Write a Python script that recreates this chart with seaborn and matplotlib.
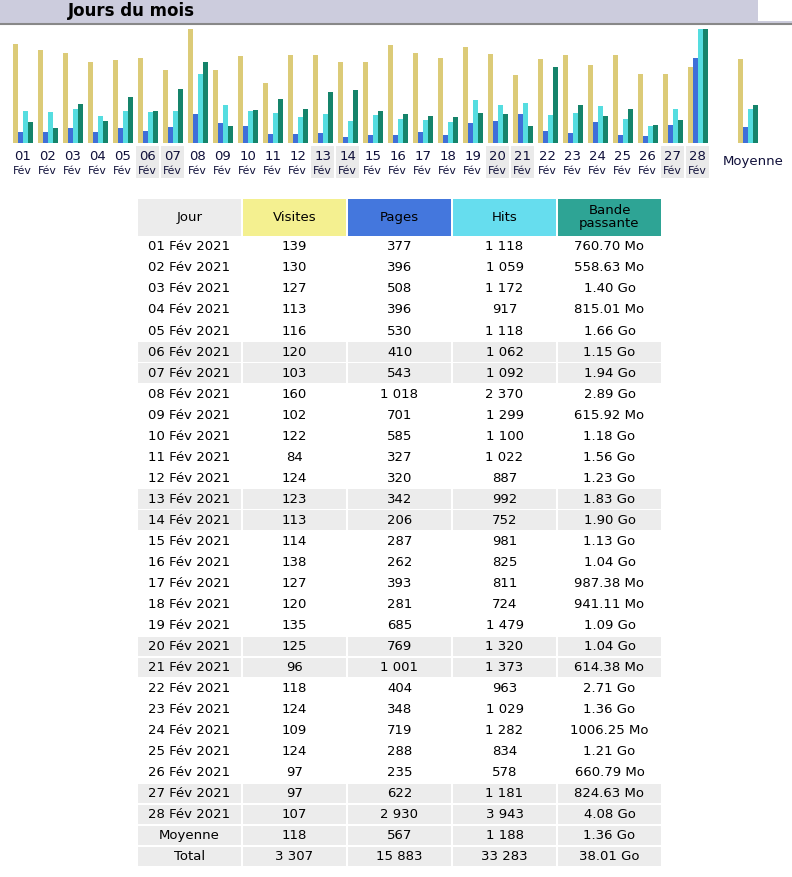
import numpy as np
import pandas as pd
import matplotlib
matplotlib.use('Agg')
import matplotlib.pyplot as plt
import matplotlib.transforms as mtrans
from matplotlib.patches import Rectangle
import seaborn as sns

sns.set_theme(style='white')
plt.rcParams['font.family'] = ['DejaVu Sans']

# ---------------- data ----------------
jours = ['%02d' % d for d in range(1, 29)]
week_end = ['06', '07', '13', '14', '20', '21', '27', '28']
visites = [139, 130, 127, 113, 116, 120, 103, 160, 102, 122, 84, 124, 123, 113,
           114, 138, 127, 120, 135, 125, 96, 118, 124, 109, 124, 97, 97, 107]
pages = [377, 396, 508, 396, 530, 410, 543, 1018, 701, 585, 327, 320, 342, 206,
         287, 262, 393, 281, 685, 769, 1001, 404, 348, 719, 288, 235, 622, 2930]
hits = [1118, 1059, 1172, 917, 1118, 1062, 1092, 2370, 1299, 1100, 1022, 887, 992, 752,
        981, 825, 811, 724, 1479, 1320, 1373, 963, 1029, 1282, 834, 578, 1181, 3943]
bande = ['760.70 Mo', '558.63 Mo', '1.40 Go', '815.01 Mo', '1.66 Go', '1.15 Go', '1.94 Go',
         '2.89 Go', '615.92 Mo', '1.18 Go', '1.56 Go', '1.23 Go', '1.83 Go', '1.90 Go',
         '1.13 Go', '1.04 Go', '987.38 Mo', '941.11 Mo', '1.09 Go', '1.04 Go', '614.38 Mo',
         '2.71 Go', '1.36 Go', '1006.25 Mo', '1.21 Go', '660.79 Mo', '824.63 Mo', '4.08 Go']
moyenne = [118, 567, 1188, '1.36 Go']
total = [3307, 15883, 33283, '38.01 Go']

series = ['Visites', 'Pages', 'Hits', 'Bande passante']
couleurs_barres = {'Visites': '#DCCB78', 'Pages': '#3F6FD8',
                   'Hits': '#55DDE0', 'Bande passante': '#15836A'}
couleurs_entete = ['#ECECEC', '#F4F090', '#4477DD', '#66DDEE', '#2EA495']


def en_mo(s):
    v, u = s.split()
    return float(v) * (1024 if u == 'Go' else 1)


def fmt(n):
    return '{:,}'.format(n).replace(',', ' ')


# ------------- bar heights (awstats style scaling) -------------
bw = [en_mo(b) for b in bande]
max_v, max_h, max_bw = max(visites), max(hits), max(bw)
rows = []
for j, v, p, h, b in zip(jours + ['Moyenne'], visites + [moyenne[0]], pages + [moyenne[1]],
                         hits + [moyenne[2]], bw + [en_mo(moyenne[3])]):
    rows.append((j, 'Visites', v / max_v))
    rows.append((j, 'Pages', p / max_h))
    rows.append((j, 'Hits', h / max_h))
    rows.append((j, 'Bande passante', b / max_bw))
df = pd.DataFrame(rows, columns=['jour', 'serie', 'hauteur'])
ordre = jours + [' ', 'Moyenne']

# ---------------- figure ----------------
W, H = 792, 877
fig = plt.figure(figsize=(W / 100, H / 100), dpi=100)
bg = fig.add_axes([0, 0, 1, 1])
bg.set_xlim(0, W)
bg.set_ylim(H, 0)
bg.axis('off')

# title band
bg.add_patch(Rectangle((0, 0), 758, 23, color='#CCCCDD', lw=0))
bg.add_patch(Rectangle((758, 20.5), W - 758, 2.5, color='#CCCCDD', lw=0))
bg.plot([0, W], [23.5, 23.5], color='#888888', lw=1.5)
bg.text(68, 11.5, 'Jours du mois', fontsize=12, fontweight='bold', va='center',
        color='#000000')

# bars
base, top = 143, 29
ax = fig.add_axes([0, (H - base) / H, 1, (base - top) / H])
ax.patch.set_alpha(0)
sns.barplot(data=df, x='jour', y='hauteur', hue='serie', order=ordre, hue_order=series,
            palette=couleurs_barres, width=0.8, saturation=1, legend=False,
            linewidth=0, edgecolor='none', ax=ax)
ax.set_xlim(-22.7 / 25, (W - 22.7) / 25)
ax.set_ylim(0, 1)
ax.axis('off')

tr = mtrans.blended_transform_factory(ax.transData, bg.transData)
for i, j in enumerate(jours):
    if j in week_end:
        bg.add_patch(Rectangle((i - 0.46, 146), 0.92, 32, transform=tr,
                               color='#EAEAEA', lw=0, clip_on=False))
    bg.text(i, 156, j, transform=tr, ha='center', va='center', fontsize=9.5,
            color='#10103A')
    bg.text(i, 171, 'Fév', transform=tr, ha='center', va='center', fontsize=7.8,
            color='#10103A')
bg.text(ordre.index('Moyenne') + 0.2, 161, 'Moyenne', transform=tr, ha='center',
        va='center', fontsize=9.5, color='#10103A')

# ---------------- table ----------------
x0, cw, step = 138, 103, 105
entetes = ['Jour', 'Visites', 'Pages', 'Hits', 'Bande\npassante']
for c, (t, col) in enumerate(zip(entetes, couleurs_entete)):
    bg.add_patch(Rectangle((x0 + c * step, 199), cw, 37, color=col, lw=0))
    bg.text(x0 + c * step + cw / 2, 217.5, t, ha='center', va='center', fontsize=9.5,
            color='#000000', linespacing=1.0)

lignes = [['%s Fév 2021' % j, fmt(v), fmt(p), fmt(h), b]
          for j, v, p, h, b in zip(jours, visites, pages, hits, bande)]
lignes.append(['Moyenne'] + [fmt(x) if isinstance(x, int) else x for x in moyenne])
lignes.append(['Total'] + [fmt(x) if isinstance(x, int) else x for x in total])
gris = [i for i, j in enumerate(jours) if j in week_end] + [28, 29]

rh = 21.03
for r, ligne in enumerate(lignes):
    y = 237 + r * rh
    for c, t in enumerate(ligne):
        if r in gris:
            bg.add_patch(Rectangle((x0 + c * step, y), cw, 19.5, color='#ECECEC', lw=0))
        bg.text(x0 + c * step + cw / 2, y + 9.9, t, ha='center', va='center',
                fontsize=9.5, color='#000000')

fig.savefig('out.png', dpi=100)
